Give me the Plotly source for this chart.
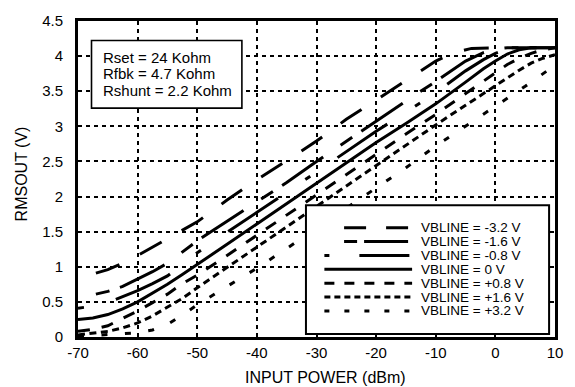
import plotly.graph_objects as go

# ---------------- data ----------------
x_ticks = [-70, -60, -50, -40, -30, -20, -10, 0, 10]
x_tick_text = ["-70", "-60", "-50", "-40", "-30", "-20", "-10", "0", "10"]
y_ticks = [0, 0.5, 1, 1.5, 2, 2.5, 3, 3.5, 4, 4.5]
y_tick_text = ["0", "0.5", "1", "1.5", "2", "2.5", "3", "3.5", "4", "4.5"]

series_names = ["VBLINE = -3.2 V", "VBLINE = -1.6 V", "VBLINE = -0.8 V", "VBLINE = 0 V",
                "VBLINE = +0.8 V", "VBLINE = +1.6 V", "VBLINE = +3.2 V"]

x_m32 = [-67, -65, -62.5, -60, -55, -50, -45, -40, -35, -30, -25, -20, -15, -10, -7, -4, 0, 5, 10]
y_m32 = [0.91, 0.96, 1.05, 1.16, 1.40, 1.64, 1.95, 2.24, 2.51, 2.79, 3.10, 3.37, 3.65, 3.93, 4.05, 4.11, 4.12, 4.12, 4.12]

x_m16 = [-67, -65, -62.5, -60, -57.5, -55, -50, -45, -40, -35, -30, -25, -20, -15, -10, -5, -2, 0, 2, 10]
y_m16 = [0.61, 0.65, 0.72, 0.82, 0.93, 1.05, 1.37, 1.65, 1.92, 2.20, 2.50, 2.79, 3.08, 3.36, 3.64, 3.93, 4.05, 4.10, 4.12, 4.12]

x_m08 = [-70, -67.5, -65, -62.5, -60, -57.5, -55, -52.5, -50, -45, -40, -35, -30, -25, -20, -15, -10, -5, -2, 0, 2, 4, 10]
y_m08 = [0.41, 0.44, 0.49, 0.57, 0.66, 0.76, 0.87, 1.03, 1.20, 1.49, 1.77, 2.06, 2.35, 2.64, 2.93, 3.20, 3.48, 3.79, 3.95, 4.04, 4.10, 4.12, 4.12]

x_0 = [-70, -67.5, -65, -62.5, -60, -57.5, -55, -52.5, -50, -45, -40, -35, -30, -25, -20, -15, -10, -5, -2, 0, 2, 4, 6, 10]
y_0 = [0.25, 0.27, 0.32, 0.40, 0.50, 0.62, 0.75, 0.89, 1.03, 1.32, 1.61, 1.90, 2.19, 2.48, 2.77, 3.04, 3.32, 3.63, 3.82, 3.93, 4.03, 4.09, 4.12, 4.12]

x_p08 = [-70, -67.5, -65, -62.5, -60, -57.5, -55, -52.5, -50, -45, -40, -35, -30, -25, -20, -15, -10, -5, 0, 2, 4, 6, 8, 10]
y_p08 = [0.08, 0.11, 0.16, 0.26, 0.37, 0.49, 0.61, 0.76, 0.88, 1.16, 1.45, 1.74, 2.03, 2.32, 2.61, 2.89, 3.17, 3.47, 3.77, 3.88, 3.97, 4.04, 4.09, 4.12]

x_p16 = [-70, -67.5, -65, -62.5, -60, -57.5, -55, -52.5, -50, -45, -40, -35, -30, -25, -20, -15, -10, -5, 0, 2, 4, 6, 8, 10]
y_p16 = [0.03, 0.05, 0.08, 0.13, 0.20, 0.30, 0.42, 0.55, 0.70, 0.99, 1.29, 1.58, 1.87, 2.16, 2.45, 2.73, 3.02, 3.30, 3.58, 3.70, 3.80, 3.90, 3.97, 4.02]

x_p32 = [-70, -65, -60, -57.5, -55, -52.5, -50, -45, -40, -35, -30, -25, -20, -15, -10, -5, 0, 5, 10]
y_p32 = [0.01, 0.03, 0.06, 0.10, 0.18, 0.31, 0.46, 0.72, 0.98, 1.26, 1.55, 1.84, 2.12, 2.41, 2.72, 3.00, 3.29, 3.57, 3.87]

info_lines = ["Rset = 24 Kohm", "Rfbk = 4.7 Kohm", "Rshunt = 2.2 Kohm"]

# ---------------- styles ----------------
plot_dashes = ["25px,23px", "14px,11px,50px,21px", "6px,33px,60px,33px", "solid",
               "12px,12px", "7px,4.5px", "6px,17.5px"]
legend_dashes = ["22px,20px", "13px,7px,44px,20px", "5px,30px,50px,30px", "solid",
                 "10px,10px", "6px,4px", "5px,15px"]
legend_start_px = [348, 348, 328, 328, 328, 328, 328]

FONT = "Liberation Sans, Arial, Helvetica, sans-serif"
W, H = 575, 387
X0, X1, Y0, Y1 = 78, 562, 18, 337   # plot area in page pixels


def px(x):
    return (x - X0) / (X1 - X0)


def py(y):
    return (Y1 - y) / (Y1 - Y0)


xs = [x_m32, x_m16, x_m08, x_0, x_p08, x_p16, x_p32]
ys = [y_m32, y_m16, y_m08, y_0, y_p08, y_p16, y_p32]

fig = go.Figure()
for name, xv, yv, d in zip(series_names, xs, ys, plot_dashes):
    fig.add_trace(go.Scatter(x=xv, y=yv, mode="lines", name=name, showlegend=False,
                             hoverinfo="skip",
                             line=dict(color="black", width=3, dash=d)))

shapes = []
annotations = []

# info box
shapes.append(dict(type="rect", xref="paper", yref="paper", x0=px(91.7), x1=px(244.3),
                   y0=py(106), y1=py(37.7), line=dict(color="black", width=1.6),
                   fillcolor="white", layer="above"))
for i, t in enumerate(info_lines):
    annotations.append(dict(xref="paper", yref="paper", x=px(101), y=py(55 + 16.5 * i),
                            text=t, showarrow=False, xanchor="left", yanchor="middle",
                            font=dict(family=FONT, size=15, color="black")))

# legend box
shapes.append(dict(type="rect", xref="paper", yref="paper", x0=px(309.3), x1=px(556),
                   y0=py(334), y1=py(204), line=dict(color="black", width=2),
                   fillcolor="white", layer="above"))
for i, (name, d, s) in enumerate(zip(series_names, legend_dashes, legend_start_px)):
    yy = 226.7 + 14 * i
    shapes.append(dict(type="line", xref="paper", yref="paper", x0=px(s), x1=px(417),
                       y0=py(yy), y1=py(yy), line=dict(color="black", width=3, dash=d),
                       layer="above"))
    annotations.append(dict(xref="paper", yref="paper", x=px(424), y=py(yy), text=name,
                            showarrow=False, xanchor="left", yanchor="middle",
                            font=dict(family=FONT, size=13.5, color="black")))

# axis titles
annotations.append(dict(xref="paper", yref="paper", x=px(329), y=py(378),
                        text="INPUT POWER (dBm)", showarrow=False, xanchor="center",
                        yanchor="middle", font=dict(family=FONT, size=16, color="black")))
annotations.append(dict(xref="paper", yref="paper", x=px(21), y=py(172),
                        text="RMSOUT (V)", showarrow=False, textangle=-90, xanchor="center",
                        yanchor="middle", font=dict(family=FONT, size=16, color="black")))

fig.update_layout(
    width=W, height=H,
    margin=dict(l=X0, r=W - X1, t=Y0, b=H - Y1, pad=0),
    paper_bgcolor="white", plot_bgcolor="white",
    font=dict(family=FONT, size=15, color="black"),
    shapes=shapes, annotations=annotations,
    showlegend=False, hovermode=False,
)
fig.update_xaxes(range=[-70, 10], tickvals=x_ticks, ticktext=x_tick_text,
                 showgrid=True, gridcolor="black", gridwidth=1.6, griddash="4px,4px",
                 showline=True, linecolor="black", linewidth=3, mirror=True,
                 ticks="", ticklabelstandoff=0, zeroline=False,
                 tickfont=dict(family=FONT, size=15, color="black"))
fig.update_yaxes(range=[0, 4.5], tickvals=y_ticks, ticktext=y_tick_text,
                 showgrid=True, gridcolor="black", gridwidth=1.6, griddash="4px,4px",
                 showline=True, linecolor="black", linewidth=3, mirror=True,
                 ticks="", ticklabelstandoff=9, zeroline=False,
                 tickfont=dict(family=FONT, size=15, color="black"))

fig.write_html("out.html", config={"displayModeBar": False},
               post_script="document.body.style.margin='0';document.body.style.overflow='hidden';")
